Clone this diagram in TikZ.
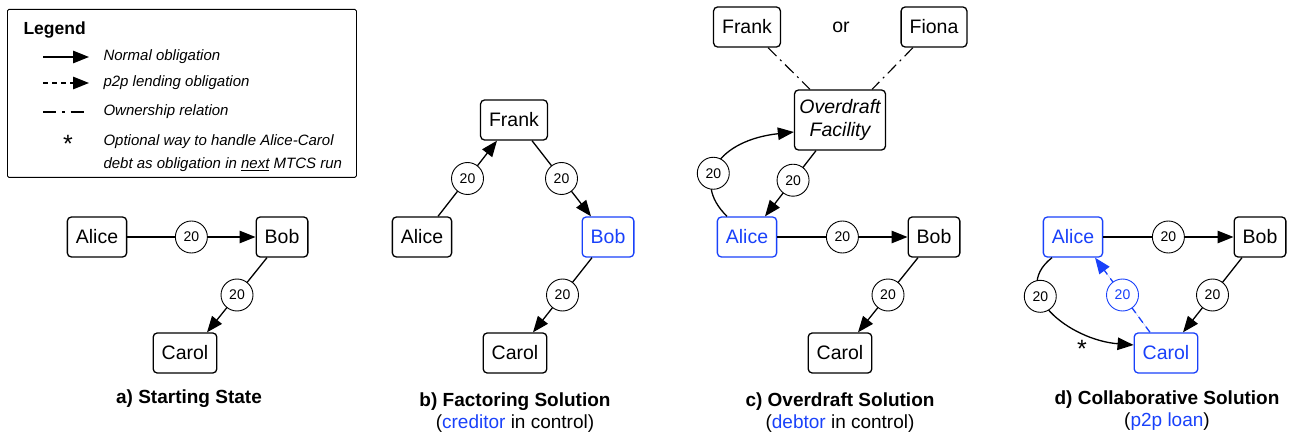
\documentclass[tikz,border=0pt]{standalone}
\usepackage{fontspec}
\setmainfont{Liberation Sans}
\usetikzlibrary{arrows.meta}
\definecolor{cblue}{RGB}{25,65,250}
\begin{document}
\begin{tikzpicture}[x=1pt,y=-1pt,
  box/.style={draw,rounded corners=4pt,line width=1.3pt,minimum height=40pt,inner xsep=8.5pt,inner ysep=2pt,font=\fontsize{19.5}{22}\selectfont,fill=white},
  bluebox/.style={box,draw=cblue,text=cblue},
  amt/.style={circle,draw,line width=0.9pt,fill=white,minimum size=32pt,inner sep=0pt,font=\fontsize{14}{16}\selectfont},
  blueamt/.style={amt,draw=cblue,text=cblue},
  oblig/.style={line width=1.3pt,-{Triangle[length=16pt,width=12.5pt]}},
  ptop/.style={oblig,dash pattern=on 7pt off 5pt},
  owner/.style={line width=1.1pt,dash pattern=on 12pt off 5pt on 2pt off 5pt},
  caption/.style={align=center,font=\fontsize{19}{22}\selectfont},
  legtext/.style={anchor=west,align=left,font=\fontsize{15}{23}\selectfont\itshape},
  starmark/.style={font=\fontsize{25}{26}\selectfont,inner sep=0pt}
]
\useasboundingbox (0,0) rectangle (1292,438);

% ---------- Legend ----------
\node[draw,line width=0.8pt,rounded corners=1.5pt,minimum width=349pt,minimum height=168pt,anchor=north west,inner sep=0pt] (legend) at (7,9) {};
\node[anchor=west,font=\fontsize{17.5}{20}\selectfont\bfseries] (legtitle) at (20,30) {Legend};
\coordinate (l1a) at (43,57);  \coordinate (l1b) at (89,57);
\coordinate (l2a) at (43,83);  \coordinate (l2b) at (89,83);
\coordinate (l3a) at (43,112); \coordinate (l3b) at (87,112);
\draw[oblig] (l1a) -- (l1b);
\draw[oblig,dash pattern=on 5pt off 4pt] (l2a) -- (l2b);
\draw[line width=1.1pt,dash pattern=on 13pt off 6pt on 2.5pt off 6pt] (l3a) -- (l3b);
\node[starmark] (legstar) at (68,144) {*};
\node[legtext] (t1) at (100,57) {Normal obligation};
\node[legtext] (t2) at (100,83) {p2p lending obligation};
\node[legtext] (t3) at (100,112) {Ownership relation};
\node[legtext] (t4) at (100,153) {Optional way to handle Alice-Carol\\debt as obligation in \underline{next} MTCS run};

% ---------- a) ----------
\node[box] (alice1) at (97,237) {Alice};
\node[box] (bob1) at (282,237) {Bob};
\node[box] (carol1) at (185,353) {Carol};
\draw[oblig] (alice1.east) -- node[amt]{20} (bob1.west);
\draw[oblig] ([xshift=-15pt]bob1.south) -- node[amt]{20} ([xshift=22pt]carol1.north);
\node[caption] (capa) at (189,399) {\textbf{a) Starting State}};

% ---------- b) ----------
\node[box] (frank2) at (514,120) {Frank};
\node[box] (alice2) at (422,237) {Alice};
\node[bluebox] (bob2) at (608,237) {Bob};
\node[box] (carol2) at (515,353) {Carol};
\draw[oblig] ([xshift=16pt]alice2.north) -- node[amt]{20} ([xshift=-17pt]frank2.south);
\draw[oblig] ([xshift=18pt]frank2.south) -- node[amt]{20} ([xshift=-17pt]bob2.north);
\draw[oblig] ([xshift=-16pt]bob2.south) -- node[amt]{20} ([xshift=18pt]carol2.north);
\node[caption] (capb) at (515,413) {\textbf{b) Factoring Solution}\\(\textcolor{cblue}{creditor} in control)};

% ---------- c) ----------
\node[box] (frank3) at (747,27) {Frank};
\node[box] (fiona3) at (934,27) {Fiona};
\node[font=\fontsize{19.5}{22}\selectfont] (or3) at (841,27) {or};
\node[box,minimum width=91pt,minimum height=60pt,inner xsep=4pt,align=center,font=\fontsize{19.5}{23}\selectfont\itshape] (od) at (840,120) {Overdraft\\Facility};
\node[bluebox] (alice3) at (747,237) {Alice};
\node[box] (bob3) at (934,237) {Bob};
\node[box] (carol3) at (840,353) {Carol};
\draw[owner] ([xshift=21pt]frank3.south) -- ([xshift=-30pt]od.north);
\draw[owner] ([xshift=-21pt]fiona3.south) -- ([xshift=32pt]od.north);
\draw[oblig] ([xshift=-24pt]od.south) -- node[amt,pos=0.45]{20} ([xshift=18pt]alice3.north);
\draw[oblig] ([xshift=-20pt]alice3.north) .. controls (690,180) and (720,140) .. node[amt,pos=0.4]{20} ([yshift=-12pt]od.west);
\draw[oblig] (alice3.east) -- node[amt]{20} (bob3.west);
\draw[oblig] ([xshift=-16pt]bob3.south) -- node[amt]{20} ([xshift=18pt]carol3.north);
\node[caption] (capc) at (840,413) {\textbf{c) Overdraft Solution}\\(\textcolor{cblue}{debtor} in control)};

% ---------- d) ----------
\node[bluebox] (alice4) at (1073,237) {Alice};
\node[box] (bob4) at (1260,237) {Bob};
\node[bluebox] (carol4) at (1166,353) {Carol};
\draw[oblig] (alice4.east) -- node[amt]{20} (bob4.west);
\draw[oblig] ([xshift=-18pt]bob4.south) -- node[amt]{20} ([xshift=17pt]carol4.north);
\draw[ptop,draw=cblue,fill=cblue] ([xshift=-16pt]carol4.north) -- node[blueamt,solid]{20} ([xshift=22pt]alice4.south);
\draw[oblig] ([xshift=-21pt]alice4.south) .. controls (1008,292) and (1070,340) .. node[amt,pos=0.35]{20} ([yshift=8pt]carol4.west);
\node[starmark] (star4) at (1082,349) {*};
\node[caption] (capd) at (1167,411) {\textbf{d) Collaborative Solution}\\(\textcolor{cblue}{p2p loan})};
\end{tikzpicture}
\end{document}
